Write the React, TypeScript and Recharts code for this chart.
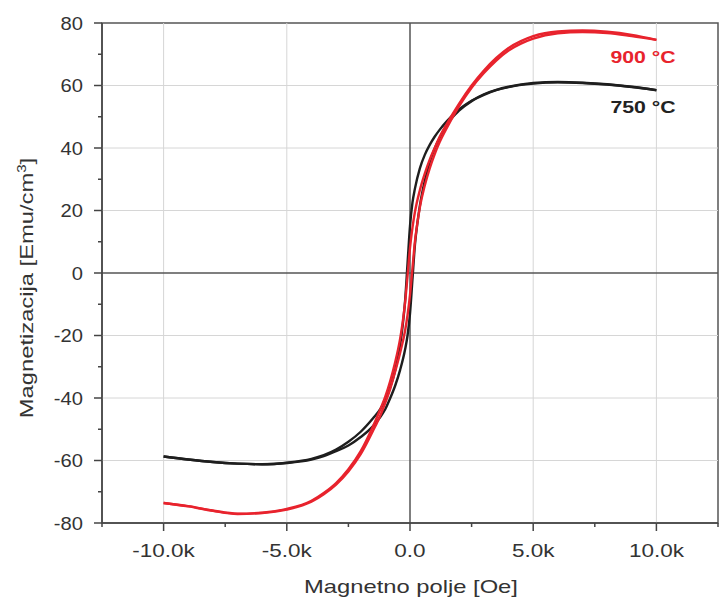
import React from 'react';
import { LineChart, Line, XAxis, YAxis, ReferenceLine, ReferenceArea } from 'recharts';

// hysteresis loops, [H (Oe), M (emu/cm3)] in increasing H
// "down" = branch coming back from +10k, "up" = branch going from -10k
const loop750Down = [
  [-10000, -58.7], [-9000, -59.7], [-8000, -60.5], [-7000, -61], [-6000, -61.2], [-5000, -60.7],
  [-4000, -59.5], [-3500, -58.3], [-3000, -56.5], [-2500, -54], [-2000, -50.8], [-1500, -46.5],
  [-1200, -43.5], [-1000, -40.5], [-800, -36.5], [-600, -31], [-400, -23], [-300, -17], [-200, -9],
  [-100, 3], [0, 15], [100, 22.5], [200, 27], [400, 33.5], [600, 37.8], [800, 41], [1000, 43.6],
  [1200, 45.8], [1500, 48.6], [2000, 52.4], [2500, 55.1], [3000, 57.2], [3500, 58.6], [4000, 59.6],
  [5000, 60.8], [6000, 61.1], [7000, 60.9], [8000, 60.4], [9000, 59.6], [10000, 58.5],
];
const loop750Up = [
  [-10000, -58.7], [-9000, -59.7], [-8000, -60.5], [-7000, -61], [-6000, -61.2], [-5000, -60.8],
  [-4000, -59.7], [-3500, -58.6], [-3000, -57], [-2500, -55.2], [-2000, -52.5], [-1500, -49],
  [-1200, -46], [-1000, -43.5], [-800, -40], [-600, -36], [-400, -31], [-200, -24.5], [-100, -20],
  [0, -13], [100, -2], [200, 9], [300, 16], [400, 21.5], [600, 29.5], [800, 35.5], [1000, 39.8],
  [1200, 43.2], [1500, 47.5], [2000, 52], [2500, 55], [3000, 57], [3500, 58.5], [4000, 59.5],
  [5000, 60.6], [6000, 61], [7000, 60.8], [8000, 60.3], [9000, 59.5], [10000, 58.5],
];
const loop900Down = [
  [-10000, -73.6], [-9000, -74.6], [-8000, -76], [-7000, -77], [-6000, -76.7], [-5000, -75.5],
  [-4000, -72.9], [-3500, -70.4], [-3000, -67.2], [-2500, -62.8], [-2000, -57], [-1500, -49],
  [-1200, -43.5], [-1000, -39.5], [-800, -34.5], [-600, -28.5], [-400, -21], [-300, -16],
  [-200, -9.5], [-100, -1], [0, 8], [100, 14.5], [200, 19.5], [400, 26.5], [600, 31.8], [800, 36.3],
  [1000, 40], [1200, 43.5], [1500, 47.8], [2000, 54.3], [2500, 60], [3000, 64.8], [3500, 68.8],
  [4000, 72], [4500, 74.2], [5000, 75.8], [6000, 77.3], [7000, 77.6], [8000, 77.2], [9000, 76.2],
  [10000, 74.6],
];
const loop900Up = [
  [-10000, -73.6], [-9000, -74.7], [-8000, -76.1], [-7000, -77.1], [-6000, -76.8], [-5000, -75.7],
  [-4000, -73.2], [-3500, -70.8], [-3000, -67.7], [-2500, -63.5], [-2000, -58], [-1500, -50.5],
  [-1200, -45.5], [-1000, -41.5], [-800, -37], [-600, -31.5], [-400, -25.5], [-200, -18.5],
  [-100, -13.5], [0, -7], [100, 1.5], [200, 10], [300, 16], [400, 21], [600, 28], [800, 33.5],
  [1000, 38], [1200, 41.8], [1500, 46.5], [2000, 53.5], [2500, 59.3], [3000, 64], [3500, 68],
  [4000, 71.2], [4500, 73.4], [5000, 75], [6000, 76.7], [7000, 77.1], [8000, 76.8], [9000, 75.8],
  [10000, 74.6],
];

const xMajor = [-10000, -5000, 0, 5000, 10000];
const xMinor = [-12500, -7500, -2500, 2500, 7500, 12500];
const xLabels = ['-10.0k', '-5.0k', '0.0', '5.0k', '10.0k'];
const yMajor = [-80, -60, -40, -20, 0, 20, 40, 60, 80];
const yMinor = [-70, -50, -30, -10, 10, 30, 50, 70];
const yLabels = ['-80', '-60', '-40', '-20', '0', '20', '40', '60', '80'];

const RED = '#e8232d';
const BLACK = '#1e1e1e';
const FONT = '"Liberation Sans", Arial, sans-serif';

const toPoints = (pairs: number[][]) => pairs.map(([h, m]) => ({ h, m }));

const XTick = (props: any) => {
  const { x, y, payload } = props;
  const i = xMajor.indexOf(payload.value);
  const major = i >= 0;
  return (
    <g>
      <line x1={x} y1={y} x2={x} y2={y + (major ? 8 : 4)} stroke="#444" strokeWidth={1.5} />
      {major && (
        <text transform={`translate(${x},${y + 34}) scale(1.25,1)`} textAnchor="middle"
          fontSize={18} fill="#333" fontFamily={FONT}>{xLabels[i]}</text>
      )}
    </g>
  );
};

const YTick = (props: any) => {
  const { x, y, payload } = props;
  const i = yMajor.indexOf(payload.value);
  const major = i >= 0;
  return (
    <g>
      <line x1={x - (major ? 8 : 4)} y1={y} x2={x} y2={y} stroke="#444" strokeWidth={1.5} />
      {major && (
        <text transform={`translate(${x - 19},${y + 6.5}) scale(1.12,1)`} textAnchor="end"
          fontSize={18} fill="#333" fontFamily={FONT}>{yLabels[i]}</text>
      )}
    </g>
  );
};

export default function App() {
  const W = 719;
  const H = 603;
  return (
    <div style={{ position: 'absolute', left: 0, top: 0, width: W, height: H, background: '#fff' }}>
      <LineChart width={W} height={H} margin={{ top: 23, right: 1, bottom: 0, left: 0 }}>
        <XAxis dataKey="h" type="number" domain={[-12500, 12500]} ticks={[...xMajor, ...xMinor].sort((a, b) => a - b)}
          interval={0} height={80} tickSize={0} tickMargin={0} tickLine={false}
          axisLine={{ stroke: '#444', strokeWidth: 1.5 }} tick={<XTick />} allowDataOverflow />
        <YAxis type="number" domain={[-80, 80]} ticks={[...yMajor, ...yMinor].sort((a, b) => a - b)}
          interval={0} width={102} tickSize={0} tickMargin={0} tickLine={false}
          axisLine={{ stroke: '#444', strokeWidth: 1.5 }} tick={<YTick />} allowDataOverflow />
        {xMajor.filter((v) => v !== 0).map((v) => (
          <ReferenceLine key={'gx' + v} x={v} stroke="#d6d6d6" strokeWidth={1} />
        ))}
        {yMajor.filter((v) => v !== 0 && Math.abs(v) !== 80).map((v) => (
          <ReferenceLine key={'gy' + v} y={v} stroke="#d6d6d6" strokeWidth={1} />
        ))}
        <ReferenceArea x1={-12500} x2={12500} y1={-80} y2={80} fill="none" stroke="#555" strokeWidth={1.5} />
        <ReferenceLine x={0} stroke="#555" strokeWidth={1.5} />
        <ReferenceLine y={0} stroke="#555" strokeWidth={1.5} />
        <Line data={toPoints(loop750Down)} dataKey="m" type="monotone" stroke={BLACK} strokeWidth={2.4}
          dot={false} isAnimationActive={false} />
        <Line data={toPoints(loop750Up)} dataKey="m" type="monotone" stroke={BLACK} strokeWidth={2.4}
          dot={false} isAnimationActive={false} />
        <Line data={toPoints(loop900Down)} dataKey="m" type="monotone" stroke={RED} strokeWidth={2.4}
          dot={false} isAnimationActive={false} />
        <Line data={toPoints(loop900Up)} dataKey="m" type="monotone" stroke={RED} strokeWidth={2.4}
          dot={false} isAnimationActive={false} />
      </LineChart>
      <svg width={W} height={H} style={{ position: 'absolute', left: 0, top: 0, pointerEvents: 'none' }}>
        <text transform="translate(411,593) scale(1.25,1)" textAnchor="middle" fontSize={19} fill="#333"
          fontFamily={FONT}>Magnetno polje [Oe]</text>
        <text transform="translate(33,288) rotate(-90) scale(1.25,1)" textAnchor="middle" fontSize={19}
          fill="#333" fontFamily={FONT}>
          Magnetizacija [Emu/cm<tspan fontSize={12} dy={-7}>3</tspan><tspan dy={7}>]</tspan>
        </text>
        <text transform="translate(643,63) scale(1.25,1)" textAnchor="middle" fontSize={17} fontWeight="bold"
          fill={RED} fontFamily={FONT}>900 °C</text>
        <text transform="translate(643,113) scale(1.25,1)" textAnchor="middle" fontSize={17} fontWeight="bold"
          fill="#222" fontFamily={FONT}>750 °C</text>
      </svg>
    </div>
  );
}
